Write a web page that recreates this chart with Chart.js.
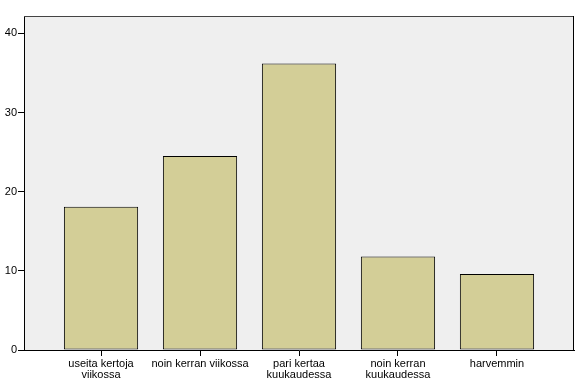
<!DOCTYPE html>
<html>
<head>
<meta charset="utf-8">
<script src="https://cdn.jsdelivr.net/npm/chart.js@4"></script>
<style>
  html, body { margin: 0; padding: 0; background: #ffffff; }
  #kaavio { display: block; }
</style>
</head>
<body>
<canvas id="kaavio" width="580" height="380"></canvas>
<script>
// data
var luokat = [
    ['useita kertoja', 'viikossa'],
    ['noin kerran viikossa'],
    ['pari kertaa', 'kuukaudessa'],
    ['noin kerran', 'kuukaudessa'],
    ['harvemmin']
];
var prosentit = [18.1, 24.5, 36.2, 11.8, 9.6];
var yTikit = [0, 10, 20, 30, 40];

var pisteet = [];
for (var i = 0; i < prosentit.length; i++) {
    pisteet.push({ x: i, y: prosentit[i] });
}

// grey plot background + top/right frame
var tausta = {
    id: 'tausta',
    beforeDraw: function (chart) {
        var a = chart.chartArea;
        var c = chart.ctx;
        c.save();
        c.fillStyle = '#efefef';
        c.fillRect(a.left, a.top, a.right - a.left, a.bottom - a.top);
        c.restore();
    },
    afterDraw: function (chart) {
        var a = chart.chartArea;
        var c = chart.ctx;
        c.save();
        c.lineWidth = 1;
        c.strokeStyle = '#444444';
        c.beginPath();
        c.moveTo(a.left, a.top + 0.5);
        c.lineTo(a.right, a.top + 0.5);
        c.stroke();
        c.strokeStyle = '#000000';
        c.beginPath();
        c.moveTo(a.right - 0.5, a.top);
        c.lineTo(a.right - 0.5, a.bottom);
        c.stroke();
        c.restore();
    }
};

var ctx = document.getElementById('kaavio');
var myChart = new Chart(ctx, {
    type: 'bar',
    data: {
        datasets: [{
            label: 'Prosentti',
            data: pisteet,
            backgroundColor: '#d3ce97',
            borderColor: '#000000',
            borderWidth: 1,
            borderSkipped: false,
            categoryPercentage: 1.0,
            barPercentage: 0.75
        }]
    },
    options: {
        responsive: false,
        animation: false,
        events: [],
        layout: {
            padding: { top: 16, right: 6, left: 0, bottom: 0 }
        },
        plugins: {
            legend: { display: false },
            tooltip: { enabled: false }
        },
        scales: {
            x: {
                type: 'linear',
                offset: false,
                min: -0.778,
                max: 4.778,
                afterBuildTicks: function (axis) {
                    axis.ticks = luokat.map(function (l, i) { return { value: i }; });
                },
                afterFit: function (axis) { axis.height = 30; },
                ticks: {
                    autoSkip: false,
                    maxRotation: 0,
                    padding: 2,
                    color: '#000000',
                    font: { family: 'Liberation Sans, Arial, sans-serif', size: 11, lineHeight: 1.0 },
                    callback: function (v) { return luokat[v]; }
                },
                grid: {
                    offset: false,
                    drawOnChartArea: false,
                    tickLength: 6,
                    tickColor: '#000000'
                },
                border: { display: true, color: '#000000', width: 1 }
            },
            y: {
                min: 0,
                max: 42.2,
                afterBuildTicks: function (axis) {
                    axis.ticks = yTikit.map(function (v) { return { value: v }; });
                },
                afterFit: function (axis) { axis.width = 24; },
                ticks: {
                    padding: 1,
                    color: '#000000',
                    font: { family: 'Liberation Sans, Arial, sans-serif', size: 11 }
                },
                grid: {
                    drawOnChartArea: false,
                    tickLength: 6,
                    tickColor: '#000000'
                },
                border: { display: true, color: '#000000', width: 1 }
            }
        }
    },
    plugins: [tausta]
});
</script>
</body>
</html>
